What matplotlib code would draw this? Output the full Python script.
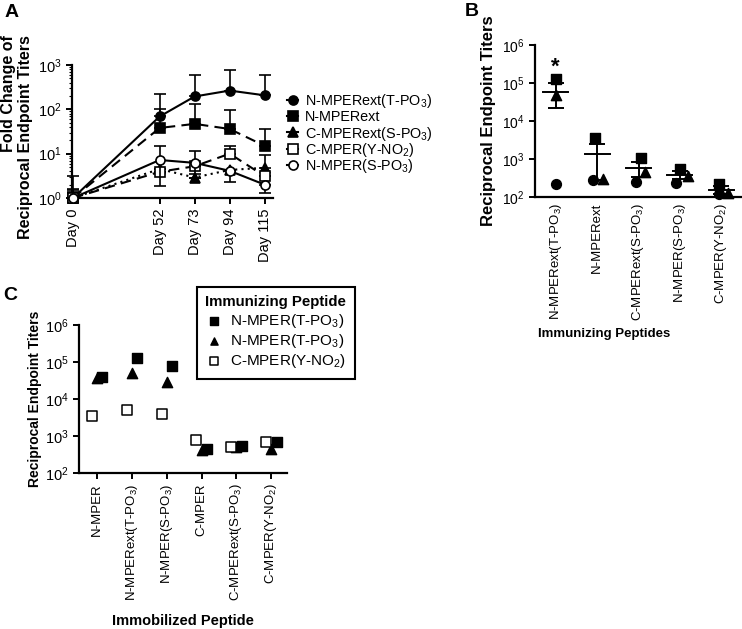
import numpy as np
import matplotlib
matplotlib.use("Agg")
import matplotlib.pyplot as plt
from matplotlib.lines import Line2D
from matplotlib.ticker import LogLocator, NullFormatter

plt.rcParams['font.family'] = ['Liberation Sans', 'DejaVu Sans']
plt.rcParams['mathtext.default'] = 'regular'
plt.rcParams['axes.linewidth'] = 1.6

# ---- panel A data: fold change over time ----
days = [0, 52, 73, 94, 115]
day_labels = ['Day 0', 'Day 52', 'Day 73', 'Day 94', 'Day 115']
series_a = ['N-MPERext(T-PO$_3$)', 'N-MPERext', 'C-MPERext(S-PO$_3$)',
            'C-MPER(Y-NO$_2$)', 'N-MPER(S-PO$_3$)']
fold_mean = [
    [1, 69, 195, 265, 207],
    [1, 38, 47, 36, 15],
    [1, 4.5, 2.9, 4.3, 4.8],
    [1, 3.9, 5.2, 10, 3.1],
    [1, 7.2, 6.2, 4.1, 2.0],
]
fold_hi = [
    [1.5, 220, 600, 760, 590],
    [1.4, 100, 132, 95, 36],
    [1.3, 4.5, 2.9, 4.3, 9.3],
    [3.1, 3.9, 5.2, 15, 3.1],
    [1.6, 14.6, 11.5, 4.1, 2.0],
]
fold_lo = [
    [1, 69, 195, 265, 207],
    [1, 38, 47, 36, 15],
    [1, 4.5, 2.9, 4.3, 4.8],
    [1, 3.9, 5.2, 10, 3.1],
    [1, 1.9, 3.5, 2.3, 1.3],
]

# ---- panel B data: titers per animal (circle, square, triangle) ----
b_labels = ['N-MPERext(T-PO$_3$)', 'N-MPERext', 'C-MPERext(S-PO$_3$)',
            'N-MPER(S-PO$_3$)', 'C-MPER(Y-NO$_2$)']
b_circle = [224, 285, 243, 234, 118]
b_square = [130000, 3550, 1050, 543, 224]
b_triangle = [49000, 290, 445, 363, 126]

# ---- panel C data ----
c_labels = ['N-MPER', 'N-MPERext(T-PO$_3$)', 'N-MPER(S-PO$_3$)', 'C-MPER',
            'C-MPERext(S-PO$_3$)', 'C-MPER(Y-NO$_2$)']
c_legend = ['N-MPER(T-PO$_3$)', 'N-MPER(T-PO$_3$)', 'C-MPER(Y-NO$_2$)']
c_square = [39000, 126000, 76000, 440, 530, 710]
c_triangle = [38000, 52000, 28000, 410, 520, 450]
c_open = [3500, 5100, 4000, 790, 500, 670]

W, H = 742, 629
fig = plt.figure(figsize=(W / 100, H / 100), dpi=100)


def px_axes(left, top, right, bottom):
    return fig.add_axes([left / W, 1 - bottom / H, (right - left) / W, (bottom - top) / H])


def style_axes(ax):
    for s in ['top', 'right']:
        ax.spines[s].set_visible(False)
    ax.tick_params(which='major', direction='out', length=4, width=1.4, color='black')


# ================= Panel A =================
axA = px_axes(72, 65, 273, 198)
style_axes(axA)
axA.set_yscale('log')
markers = [('o', 'black', '-'), ('s', 'black', (0, (5, 3))), ('^', 'black', (0, (1, 2))),
           ('s', 'white', (0, (5, 3))), ('o', 'white', '-')]
for i, name in enumerate(series_a):
    m, fc, ls = markers[i]
    mean = np.array(fold_mean[i])
    yerr = [mean - np.array(fold_lo[i]), np.array(fold_hi[i]) - mean]
    cont = axA.errorbar(days, mean, yerr=yerr, marker=m, markersize=6.5, mfc=fc, mec='black',
                        mew=1.2, color='black', ls=ls, lw=1.5, capsize=4, elinewidth=1.2,
                        capthick=1.2, zorder=3 + i)
    for art in cont.get_children():
        art.set_clip_on(False)
    # hand-placed legend row (even spacing like the original)
    ly = 1 - (100 + 16.2 * i) / H
    fig.add_artist(Line2D([287 / W, 298 / W], [ly, ly], transform=fig.transFigure,
                          color='black', lw=1.5))
    fig.add_artist(Line2D([292.5 / W], [ly], transform=fig.transFigure, marker=m,
                          markersize=6.5, mfc=fc, mec='black', mew=1.2, ls='none'))
    fig.text(305 / W, ly - 5.1 / H, name, fontsize=10.4, va='baseline', ha='left')
axA.set_xlim(-0.6, 120)
axA.set_ylim(1, 1000)
axA.set_xticks(days)
axA.set_xticklabels(day_labels, rotation=90, fontsize=10.5)
axA.yaxis.set_minor_locator(LogLocator(base=10, subs=np.arange(2, 10), numticks=10))
axA.yaxis.set_minor_formatter(NullFormatter())
axA.tick_params(axis='y', which='minor', length=2.5, width=0.8)
axA.tick_params(axis='y', labelsize=10.5)
axA.set_ylabel('Fold Change of\nReciprocal Endpoint Titers', fontsize=11.5, fontweight='bold',
               linespacing=1.15, multialignment='right')
axA.yaxis.set_label_coords(-0.195, 0.46)
fig.text(5 / W, 1 - 4 / H, 'A', fontsize=14, fontweight='bold', va='top', ha='left')

# ================= Panel B =================
axB = px_axes(535, 45, 742, 197)
style_axes(axB)
axB.set_yscale('log')
xb = np.arange(len(b_labels))
off_circle = [0, -0.1, -0.05, -0.1, -0.05]
off_square = [0, -0.05, 0.05, 0, -0.05]
off_triangle = [0, 0.15, 0.15, 0.2, 0.15]
axB.scatter(xb + np.array(off_circle), b_circle, marker='o', s=50, color='black', zorder=3, clip_on=False)
axB.scatter(xb + np.array(off_square), b_square, marker='s', s=50, color='black', zorder=3, clip_on=False)
axB.scatter(xb + np.array(off_triangle), b_triangle, marker='^', s=55, color='black', zorder=3, clip_on=False)
vals = np.array([b_circle, b_square, b_triangle])
b_mean = vals.mean(axis=0)
b_sem = vals.std(axis=0, ddof=1) / np.sqrt(3)
for i in range(len(b_labels)):
    axB.plot([xb[i] - 0.3, xb[i] + 0.3], [b_mean[i]] * 2, color='black', lw=1.4, zorder=4)
    axB.errorbar(xb[i], b_mean[i], yerr=b_sem[i], color='black', lw=1.4, capsize=5.5,
                 capthick=1.4, zorder=4)
axB.text(xb[0], 2.6e5, '*', ha='center', va='center', fontsize=16, fontweight='bold')
axB.set_xlim(-0.5, 4.5)
axB.set_ylim(100, 1e6)
axB.set_xticks(xb)
axB.set_xticklabels(b_labels, rotation=90, fontsize=9.5)
axB.tick_params(axis='x', length=0, pad=4)
axB.yaxis.set_minor_locator(LogLocator(base=10, subs=[], numticks=10))
axB.tick_params(axis='y', labelsize=10)
axB.set_ylabel('Reciprocal Endpoint Titers', fontsize=12, fontweight='bold')
axB.yaxis.set_label_coords(-0.19, 0.5)
axB.set_xlabel('Immunizing Peptides', fontsize=9.5, fontweight='bold')
axB.xaxis.set_label_coords(0.333, -0.86)
fig.text(465 / W, 1 - 3 / H, 'B', fontsize=14, fontweight='bold', va='top', ha='left')

# ================= Panel C =================
axC = px_axes(79, 325, 287, 473)
style_axes(axC)
axC.set_yscale('log')
xc = np.arange(len(c_labels))
hs = axC.scatter(xc + 0.15, c_square, marker='s', s=55, color='black', zorder=3)
ht = axC.scatter(xc + 0.0, c_triangle, marker='^', s=55, color='black', zorder=3)
ho = axC.scatter(xc - 0.15, c_open, marker='s', s=55, facecolor='white', edgecolor='black',
                 linewidths=1.1, zorder=3)
axC.set_xlim(-0.52, 5.45)
axC.set_ylim(100, 1e6)
axC.set_xticks(xc)
axC.set_xticklabels(c_labels, rotation=90, fontsize=9.5)
axC.yaxis.set_minor_locator(LogLocator(base=10, subs=[], numticks=10))
axC.tick_params(axis='y', labelsize=10.5)
axC.set_ylabel('Reciprocal Endpoint Titers', fontsize=10, fontweight='bold')
axC.yaxis.set_label_coords(-0.18, 0.5)
axC.set_xlabel('Immobilized Peptide', fontsize=10.5, fontweight='bold')
axC.xaxis.set_label_coords(0.5, -0.95)
leg = axC.legend([hs, ht, ho], c_legend, title='Immunizing Peptide', loc='upper left',
                 bbox_to_anchor=(197 / W, 1 - 287 / H), bbox_transform=fig.transFigure,
                 fontsize=11, title_fontproperties={'weight': 'bold', 'size': 10.8},
                 fancybox=False, edgecolor='black', framealpha=1, handletextpad=0.5,
                 labelspacing=0.15, borderpad=0.55, handlelength=1.1, markerscale=0.7,
                 borderaxespad=0)
leg.get_frame().set_linewidth(1.5)
fig.text(3 / W, 1 - 287 / H, 'C', fontsize=14, fontweight='bold', va='top', ha='left')

fig.savefig('out.png', dpi=100)
